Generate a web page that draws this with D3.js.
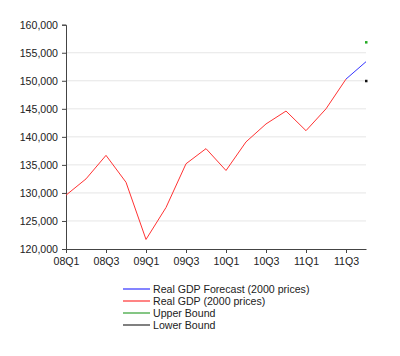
<!DOCTYPE html>
<html><head><meta charset="utf-8">
<script src="https://cdn.jsdelivr.net/npm/d3@7"></script>
<style>body{margin:0;background:#fff;} svg{display:block;font-family:Arial,"Liberation Sans",sans-serif;}</style>
</head><body>
<svg id="c" width="400" height="356"></svg>
<script>
const quarters = ["08Q1","08Q2","08Q3","08Q4","09Q1","09Q2","09Q3","09Q4","10Q1","10Q2","10Q3","10Q4","11Q1","11Q2","11Q3","11Q4"];
const tickLabels = ["08Q1","08Q3","09Q1","09Q3","10Q1","10Q3","11Q1","11Q3"];
const realGDP = [129600,132500,136700,131900,121700,127400,135200,137900,134000,139100,142300,144600,141100,145000,150300];
const forecastQuarters = ["11Q3","11Q4"];
const forecast = [150300,153400];
const upperBound = [{q:"11Q4", v:156900}];
const lowerBound = [{q:"11Q4", v:150000}];
const yTicks = [120000,125000,130000,135000,140000,145000,150000,155000,160000];
const legendLabels = ["Real GDP Forecast (2000 prices)","Real GDP (2000 prices)","Upper Bound","Lower Bound"];
const legendColors = ["#3333ff","#ff3333","#33a033","#808080"];

const svg = d3.select("#c");
const x = d3.scalePoint().domain(quarters).range([66,366]);
const y = d3.scaleLinear().domain([120000,160000]).range([249,24.7]);
const fmt = d3.format(",");
const FS = 10.6;

// gridlines
svg.append("g").selectAll("line").data(yTicks.filter(t=>t>120000 && t<160000)).join("line")
  .attr("x1",66).attr("x2",366).attr("y1",d=>y(d)).attr("y2",d=>y(d))
  .attr("stroke","#e6e6e6").attr("stroke-width",1);

// y axis
const ya = svg.append("g").attr("transform","translate(66,0)")
  .call(d3.axisLeft(y).tickValues(yTicks).tickFormat(fmt).tickSize(4).tickPadding(4));
ya.select(".domain").attr("stroke","#444");
ya.selectAll(".tick line").attr("stroke","#444");
ya.selectAll("text").attr("font-size",FS).attr("fill","#222").attr("font-family","Arial, Liberation Sans, sans-serif");

// x axis
const xa = svg.append("g").attr("transform","translate(0,249)")
  .call(d3.axisBottom(x).tickValues(tickLabels).tickSize(4).tickSizeOuter(0).tickPadding(4));
xa.select(".domain").attr("stroke","#444");
xa.selectAll(".tick line").attr("stroke","#444");
xa.selectAll("text").attr("font-size",FS).attr("fill","#222").attr("font-family","Arial, Liberation Sans, sans-serif");

const line = d3.line().x(d=>x(d.q)).y(d=>y(d.v));
svg.append("path").datum(realGDP.map((v,i)=>({q:quarters[i],v})))
  .attr("d",line).attr("fill","none").attr("stroke",legendColors[1]).attr("stroke-width",1);
svg.append("path").datum(forecast.map((v,i)=>({q:forecastQuarters[i],v})))
  .attr("d",line).attr("fill","none").attr("stroke",legendColors[0]).attr("stroke-width",1);

svg.selectAll(".ub").data(upperBound).join("rect").attr("class","ub")
  .attr("x",d=>x(d.q)-1).attr("y",d=>y(d.v)-1).attr("width",2.5).attr("height",2.5).attr("fill","#22aa22");
svg.selectAll(".lb").data(lowerBound).join("rect").attr("class","lb")
  .attr("x",d=>x(d.q)-1).attr("y",d=>y(d.v)-1).attr("width",2.5).attr("height",2.5).attr("fill","#111");

// legend
const lg = svg.append("g").selectAll("g").data(legendLabels).join("g")
  .attr("transform",(d,i)=>`translate(123,${289+i*12})`);
lg.append("line").attr("x1",0).attr("x2",27).attr("y1",0).attr("y2",0)
  .attr("stroke",(d,i)=>legendColors[i]).attr("stroke-width",(d,i)=>i==3?2:1.2);
lg.append("text").attr("x",30).attr("y",4).attr("font-size",FS).attr("fill","#222").text(d=>d);
</script>
</body></html>
